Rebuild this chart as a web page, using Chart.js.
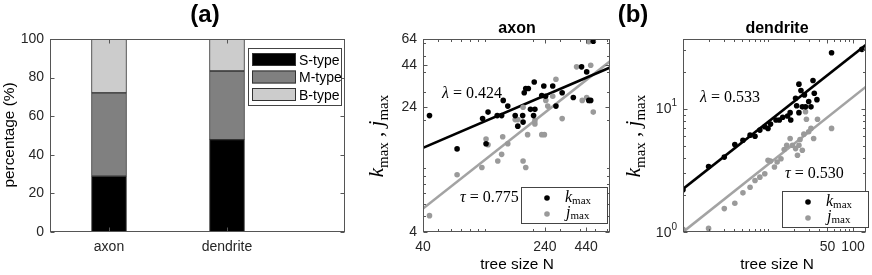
<!DOCTYPE html>
<html><head><meta charset="utf-8">
<script src="https://cdn.jsdelivr.net/npm/chart.js@4/dist/chart.umd.min.js"></script>
<style>
html,body{margin:0;padding:0;background:#fff;width:872px;height:275px;overflow:hidden}
canvas{position:absolute;left:0;top:0}
</style></head><body>
<canvas id="cA" width="872" height="275"></canvas>
<canvas id="cB" width="872" height="275"></canvas>
<canvas id="cC" width="872" height="275"></canvas>
<script>
// ---------- data ----------
const barCategories = ['axon', 'dendrite'];
const typeLabels = ['S-type', 'M-type', 'B-type'];
const sType = [28.9, 47.9];
const mType = [43.2, 35.5];
const bType = [27.9, 16.6];
const barYTicks = [0, 20, 40, 60, 80, 100];

const axonN_k = [44,66,96,104,101,119,127,130,139,155,161,173,174,177,181,188,194,207,203,205,229,236,242,269,282,309,364,411,443,457,470,488];
const axonK   = [21.3,13.2,20.4,22.4,14.2,21.3,21.3,26.5,24.4,21.3,18.3,21.3,19.4,29.6,31.4,31.4,23.3,23.3,21.3,34.5,28.4,32.6,28.1,32.6,24.4,29.6,27.6,42.9,39.9,26.5,26.5,61.9];
const axonN_j = [44,66,95,101,104,120,127,129,139,161,174,181,174,186,207,207,229,238,243,269,282,309,382,415,443,457,470,488,155,250];
const axonJ   = [5.06,9.1,10.1,15.2,14.0,11.1,12.2,15.7,14.2,20.1,11.1,10.1,24.0,16.2,18.9,19.8,16.2,16.2,26.5,28.1,35.9,20.4,42.9,26.5,27.6,61.5,43.9,22.4,20.1,24.4];
const axonFitN = [40, 624];
const axonKFit = [13.4, 42.5];
const axonJFit = [5.6, 46.5];
const axonXTicks = [40, 240, 440];
const axonYTicks = [4, 24, 44, 64];

const dendN_k = [1,2.0,3.06,4.07,5.07,6.15,7.03,8.02,9.16,10,10.7,12.4,13.6,14.9,17.0,18.2,18.5,21.1,21.7,23.1,23.1,24.4,25.3,26.8,27.6,30.1,32.0,33.8,35.0,37.6,55.9,127];
const dendK   = [2.2,3.41,4.06,5.14,5.57,6.12,5.99,6.73,7.16,6.93,7.53,8.13,8.13,8.55,8.77,9.33,8.13,12.2,10.6,15.9,9.33,14.1,10.4,13.0,10.4,11.5,10.4,17.0,13.4,11.9,28.6,30.5];
const dendN_j = [1,2.0,3.06,4.07,5.07,6.15,7.03,8.02,9.16,10,10.7,11.9,12.8,14.2,15.5,16.6,18.2,19.4,21.1,22.2,23.1,23.8,25.3,26.4,27.6,28.3,30.1,32.0,34.4,38.2,55.9];
const dendJ   = [1.05,1.07,1.55,1.71,2.08,2.31,2.62,2.79,2.97,3.82,3.77,3.37,3.70,3.94,4.68,5.07,5.75,5.07,4.76,4.20,5.07,5.65,4.61,6.24,9.5,8.24,6.52,6.95,5.75,8.24,6.95];
const dendFitN = [1, 141];
const dendKFit = [2.24, 33];
const dendJFit = [1.0, 15.1];
const dendXTicks = [50, 100];
const dendYTicks = [1, 10];

// ---------- styling helpers ----------
const SANS = '"Liberation Sans", Arial, Helvetica, sans-serif';
const SERIF = '"Liberation Serif", "Times New Roman", serif';
const TICKC = '#262626';
const AXC = '#555555';
const GRAYPT = '#9a9a9a';

function pts(xs, ys){ return xs.map((x,i)=>({x:x, y:ys[i]})); }

function drawParts(ctx, parts, x, y, rot, align){
  ctx.save(); ctx.translate(x, y); if (rot) ctx.rotate(rot);
  let w = 0;
  parts.forEach(p => { ctx.font = p.f; p.w = ctx.measureText(p.t).width; w += p.w; });
  let cx = align === 'center' ? -w/2 : (align === 'right' ? -w : 0);
  ctx.textBaseline = 'alphabetic'; ctx.textAlign = 'left';
  parts.forEach(p => { ctx.font = p.f; ctx.fillStyle = p.c || '#000'; ctx.fillText(p.t, cx, p.dy || 0); cx += p.w; });
  ctx.restore();
}
function mathSym(sym, size, sub){
  return [{t:sym, f:`italic ${size}px ${SERIF}`},{t:'max', f:`${Math.round(size*0.7)}px ${SERIF}`, dy:size*(sub || 0.25)}];
}
function kjLabel(size){
  return [...mathSym('k', size), {t:' , ', f:`${size}px ${SERIF}`}, ...mathSym('j', size)];
}
function plain(t, font){ return [{t:t, f:font}]; }

// ---------- decoration plugin (box, inward ticks, labels, legends) ----------
const decor = {
  id: 'decor',
  afterDatasetsDraw(chart, args, o) {
    const ctx = chart.ctx, a = chart.chartArea;
    const xs = chart.scales.x, ys = chart.scales.y;
    const L = Math.round(a.left) + 0.5, R = Math.round(a.right) - 0.5;
    const T = Math.round(a.top) + 0.5, B = Math.round(a.bottom) - 0.5;
    ctx.save();
    ctx.strokeStyle = AXC; ctx.lineWidth = 1;
    ctx.beginPath();
    const tx = (vals, len) => vals.forEach(v => {
      const p = Math.round(xs.getPixelForValue(v)) + 0.5;
      ctx.moveTo(p, B); ctx.lineTo(p, B - len); ctx.moveTo(p, T); ctx.lineTo(p, T + len);
    });
    const ty = (vals, len) => vals.forEach(v => {
      const p = Math.round(ys.getPixelForValue(v)) + 0.5;
      ctx.moveTo(L, p); ctx.lineTo(L + len, p); ctx.moveTo(R, p); ctx.lineTo(R - len, p);
    });
    tx(o.xMajor || [], 4); tx(o.xMinor || [], 2.5);
    ty(o.yMajor || [], 4); ty(o.yMinor || [], 2.5);
    ctx.stroke();
    ctx.strokeRect(L, T, R - L, B - T);
    ctx.restore();

    // legend
    if (o.legend) {
      const g = o.legend;
      ctx.save();
      ctx.fillStyle = '#fff'; ctx.fillRect(g.x, g.y, g.w, g.h);
      ctx.strokeStyle = '#444'; ctx.lineWidth = 1;
      ctx.strokeRect(g.x + 0.5, g.y + 0.5, g.w - 1, g.h - 1);
      g.items.forEach(it => {
        if (it.swatch) {
          ctx.fillStyle = it.color; ctx.fillRect(it.sx, it.sy, it.sw, it.sh);
          ctx.strokeStyle = '#333'; ctx.strokeRect(it.sx + 0.5, it.sy + 0.5, it.sw - 1, it.sh - 1);
        } else {
          ctx.fillStyle = it.color; ctx.beginPath(); ctx.arc(it.sx, it.sy, 2.8, 0, Math.PI*2); ctx.fill();
        }
        drawParts(ctx, it.parts, it.tx, it.ty, 0, 'left');
      });
      ctx.restore();
    }
    // texts
    (o.texts || []).forEach(t => drawParts(ctx, t.parts, t.x, t.y, t.rot || 0, t.align || 'center'));
  }
};

const tickFont = {family: SANS, size: 14};
const labelFont = `15.4px ${SANS}`;
const fixedTicks = vals => (s => { s.ticks = vals.map(v => ({value: v})); });

// ---------- (a) stacked bars ----------
const barSeries = [sType, mType, bType];
const barColors = ['#000000', '#808080', '#cccccc'];
new Chart(document.getElementById('cA'), {
  type: 'bar',
  data: {
    datasets: typeLabels.map((lab, i) => ({
      label: lab,
      data: barCategories.map((c, j) => ({x: j + 1, y: barSeries[i][j]})),
      backgroundColor: barColors[i], borderColor: '#333', borderWidth: 1,
      borderSkipped: false, barThickness: 35
    }))
  },
  options: {
    responsive: false, animation: false, devicePixelRatio: 1,
    layout: {padding: {top: 39, right: 527, left: 0, bottom: 0}},
    plugins: {
      legend: {display: false}, tooltip: {enabled: false},
      decor: {
        xMajor: [1, 2], yMajor: barYTicks,
        legend: {x: 248, y: 48, w: 94, h: 58, items: typeLabels.map((lab, i) => ({
          swatch: true, color: barColors[i], sx: 252, sy: 53 + i*17.5, sw: 44, sh: 13,
          parts: plain(lab, `14px ${SANS}`), tx: 299, ty: 64.5 + i*17.5
        }))},
        texts: [
          {parts: plain('(a)', `bold 24px ${SANS}`), x: 205, y: 22},
          {parts: plain('percentage (%)', labelFont), x: 14, y: 135, rot: -Math.PI/2}
        ]
      }
    },
    scales: {
      x: {type: 'linear', min: 0.5, max: 3, offset: false, stacked: true,
          grid: {display: false, drawTicks: false, offset: false}, border: {display: false},
          afterBuildTicks: fixedTicks([1, 2]),
          ticks: {callback: v => barCategories[v - 1], font: tickFont, color: TICKC, padding: 7, autoSkip: false, maxRotation: 0},
          afterFit: s => { s.height = 43; }},
      y: {min: 0, max: 100, stacked: true,
          grid: {display: false, drawTicks: false}, border: {display: false},
          afterBuildTicks: fixedTicks(barYTicks),
          ticks: {callback: v => String(v), font: tickFont, color: TICKC, padding: 6},
          afterFit: s => { s.width = 50; }}
    }
  },
  plugins: [decor]
});

// ---------- scatter panels ----------
function scatterPanel(id, cfg) {
  new Chart(document.getElementById(id), {
    type: 'scatter',
    data: {
      datasets: [
        {label: 'k fit', type: 'line', data: pts(cfg.fitN, cfg.kFit), borderColor: '#000', borderWidth: 2.6, pointRadius: 0, fill: false, order: 3},
        {label: 'j fit', type: 'line', data: pts(cfg.fitN, cfg.jFit), borderColor: '#a3a3a3', borderWidth: 2.6, pointRadius: 0, fill: false, order: 4},
        {label: 'k_max', data: pts(cfg.nk, cfg.k), backgroundColor: '#000', borderWidth: 0, pointRadius: 2.8, order: 1},
        {label: 'j_max', data: pts(cfg.nj, cfg.j), backgroundColor: GRAYPT, borderWidth: 0, pointRadius: 2.8, order: 2}
      ]
    },
    options: {
      responsive: false, animation: false, devicePixelRatio: 1,
      layout: {padding: {top: 39, right: cfg.padR, left: cfg.padL, bottom: 0}},
      plugins: {legend: {display: false}, tooltip: {enabled: false}, decor: cfg.decor},
      scales: {
        x: {type: 'logarithmic', min: cfg.xr[0], max: cfg.xr[1],
            grid: {display: false, drawTicks: false}, border: {display: false},
            afterBuildTicks: fixedTicks(cfg.xt),
            ticks: {callback: v => String(v), font: tickFont, color: TICKC, padding: 7, autoSkip: false, maxRotation: 0},
            afterFit: s => { s.height = 43; }},
        y: {type: 'logarithmic', min: cfg.yr[0], max: cfg.yr[1],
            grid: {display: false, drawTicks: false}, border: {display: false},
            afterBuildTicks: fixedTicks(cfg.yt),
            ticks: {display: cfg.yTickDisplay, callback: v => String(v), font: tickFont, color: TICKC, padding: 6},
            afterFit: s => { s.width = cfg.yW; }}
      }
    },
    plugins: [decor]
  });
}

function scatterLegend(x, y) {
  return {x: x, y: y, w: 87, h: 37, items: [
    {color: '#000', sx: x + 26, sy: y + 11, parts: mathSym('k', 16, 0.15), tx: x + 44, ty: y + 15},
    {color: GRAYPT, sx: x + 26, sy: y + 27, parts: mathSym('j', 16, 0.15), tx: x + 45, ty: y + 30}
  ]};
}

scatterPanel('cB', {
  fitN: axonFitN, kFit: axonKFit, jFit: axonJFit,
  nk: axonN_k, k: axonK, nj: axonN_j, j: axonJ,
  xr: [40, 624], yr: [4, 64], xt: axonXTicks, yt: axonYTicks,
  padL: 360, padR: 262, yW: 63, yTickDisplay: true,
  decor: {
    xMajor: axonXTicks, xMinor: [50,60,70,80,90,100,200,300,400,500,600],
    yMajor: axonYTicks, yMinor: [5,6,7,8,9,10,20,30,40,50,60],
    legend: scatterLegend(521, 187),
    texts: [
      {parts: plain('axon', `bold 16px ${SANS}`), x: 517, y: 33},
      {parts: plain('tree size N', labelFont), x: 517, y: 269},
      {parts: kjLabel(21), x: 383, y: 136, rot: -Math.PI/2},
      {parts: [{t:'λ', f:`italic 16px ${SERIF}`}, {t:' = 0.424', f:`16px ${SERIF}`}], x: 442, y: 98, align: 'left'},
      {parts: [{t:'τ', f:`italic 16px ${SERIF}`}, {t:' = 0.775', f:`16px ${SERIF}`}], x: 460, y: 202, align: 'left'}
    ]
  }
});

scatterPanel('cC', {
  fitN: dendFitN, kFit: dendKFit, jFit: dendJFit,
  nk: dendN_k, k: dendK, nj: dendN_j, j: dendJ,
  xr: [1, 141], yr: [1, 37], xt: dendXTicks, yt: dendYTicks,
  padL: 625, padR: 2, yW: 58, yTickDisplay: false,
  decor: {
    xMajor: dendXTicks, xMinor: [2,3,4,5,6,7,8,9,10,20,30,40,60,70,80,90],
    yMajor: dendYTicks, yMinor: [2,3,4,5,6,7,8,9,20,30],
    legend: scatterLegend(782, 191),
    texts: [
      {parts: plain('(b)', `bold 24px ${SANS}`), x: 633, y: 22},
      {parts: plain('dendrite', `bold 16px ${SANS}`), x: 777, y: 33},
      {parts: plain('tree size N', labelFont), x: 777, y: 269},
      {parts: kjLabel(21), x: 640, y: 136, rot: -Math.PI/2},
      {parts: [{t:'10', f:`14px ${SANS}`, c: TICKC}, {t:'1', f:`10px ${SANS}`, c: TICKC, dy:-7}], x: 677, y: 113, align: 'right'},
      {parts: [{t:'10', f:`14px ${SANS}`, c: TICKC}, {t:'0', f:`10px ${SANS}`, c: TICKC, dy:-7}], x: 677, y: 237, align: 'right'},
      {parts: [{t:'λ', f:`italic 16px ${SERIF}`}, {t:' = 0.533', f:`16px ${SERIF}`}], x: 700, y: 102, align: 'left'},
      {parts: [{t:'τ', f:`italic 16px ${SERIF}`}, {t:' = 0.530', f:`16px ${SERIF}`}], x: 785, y: 178, align: 'left'}
    ]
  }
});
</script>
</body></html>
